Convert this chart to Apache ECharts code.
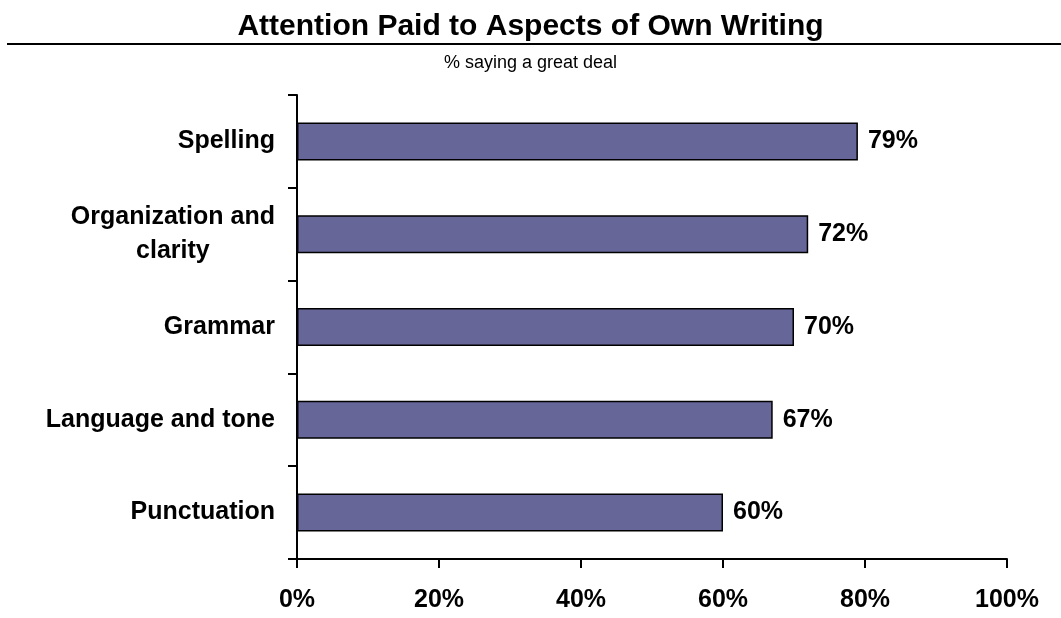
<!DOCTYPE html>
<html>
<head>
<meta charset="utf-8">
<title>Attention Paid to Aspects of Own Writing</title>
<script src="https://cdn.jsdelivr.net/npm/echarts@6/dist/echarts.min.js"></script>
<style>
  html, body { margin: 0; padding: 0; background: #fff; }
  #chart { width: 1061px; height: 618px; }
</style>
</head>
<body>
<div id="chart"></div>
<script>
// % saying a great deal, top to bottom as in the picture
var categories = ['Spelling', 'Organization and\nclarity', 'Grammar', 'Language and tone', 'Punctuation'];
var values = [79, 72, 70, 67, 60];
var tickValues = [0, 20, 40, 60, 80, 100];

var FONT = '"Liberation Sans", Arial, sans-serif';

function buildOption() {
  return {
    animation: false,
    backgroundColor: '#ffffff',
    title: [
      { text: 'Attention Paid to Aspects of Own Writing', left: 'center', top: 7,
        textStyle: { fontFamily: FONT, fontSize: 30, fontWeight: 'bold', color: '#000' } },
      { text: '% saying a great deal', left: 'center', top: 49,
        textStyle: { fontFamily: FONT, fontSize: 18, fontWeight: 'normal', color: '#000' } }
    ],
    graphic: [{
      type: 'line', shape: { x1: 7, y1: 44, x2: 1061, y2: 44 },
      style: { stroke: '#000', lineWidth: 2 }
    }],
    grid: { left: 297, right: 54, top: 95, bottom: 59 },
    xAxis: {
      type: 'value', min: 0, max: 100, interval: 20,
      splitLine: { show: false },
      axisLine: { show: true, lineStyle: { color: '#000', width: 2 } },
      axisTick: { show: true, length: 9, lineStyle: { color: '#000', width: 2 } },
      axisLabel: { margin: 29, fontFamily: FONT, fontSize: 25, fontWeight: 'bold', color: '#000',
        formatter: function (v) { return tickValues.indexOf(v) >= 0 ? v + '%' : ''; } }
    },
    yAxis: {
      type: 'category', inverse: true, data: categories,
      axisLine: { show: true, lineStyle: { color: '#000', width: 2 } },
      axisTick: { show: true, length: 9, alignWithLabel: false, lineStyle: { color: '#000', width: 2 } },
      axisLabel: {
        margin: 22, fontFamily: FONT, fontSize: 25, fontWeight: 'bold', color: '#000',
        lineHeight: 34,
        formatter: function (v) { return '{c|' + v.split('\n').join('}\n{c|') + '}'; },
        rich: { c: { align: 'center', fontFamily: FONT, fontSize: 25, fontWeight: 'bold', color: '#000', lineHeight: 34 } }
      }
    },
    series: [{
      type: 'bar',
      data: values,
      barWidth: '41%',
      itemStyle: { color: '#666699', borderColor: '#000', borderWidth: 1.5 },
      label: {
        show: true, position: 'right', distance: 10,
        fontFamily: FONT, fontSize: 25, fontWeight: 'bold', color: '#000',
        formatter: '{c}%'
      }
    }]
  };
}

var chart = echarts.init(document.getElementById('chart'));
chart.setOption(buildOption());
</script>
</body>
</html>
